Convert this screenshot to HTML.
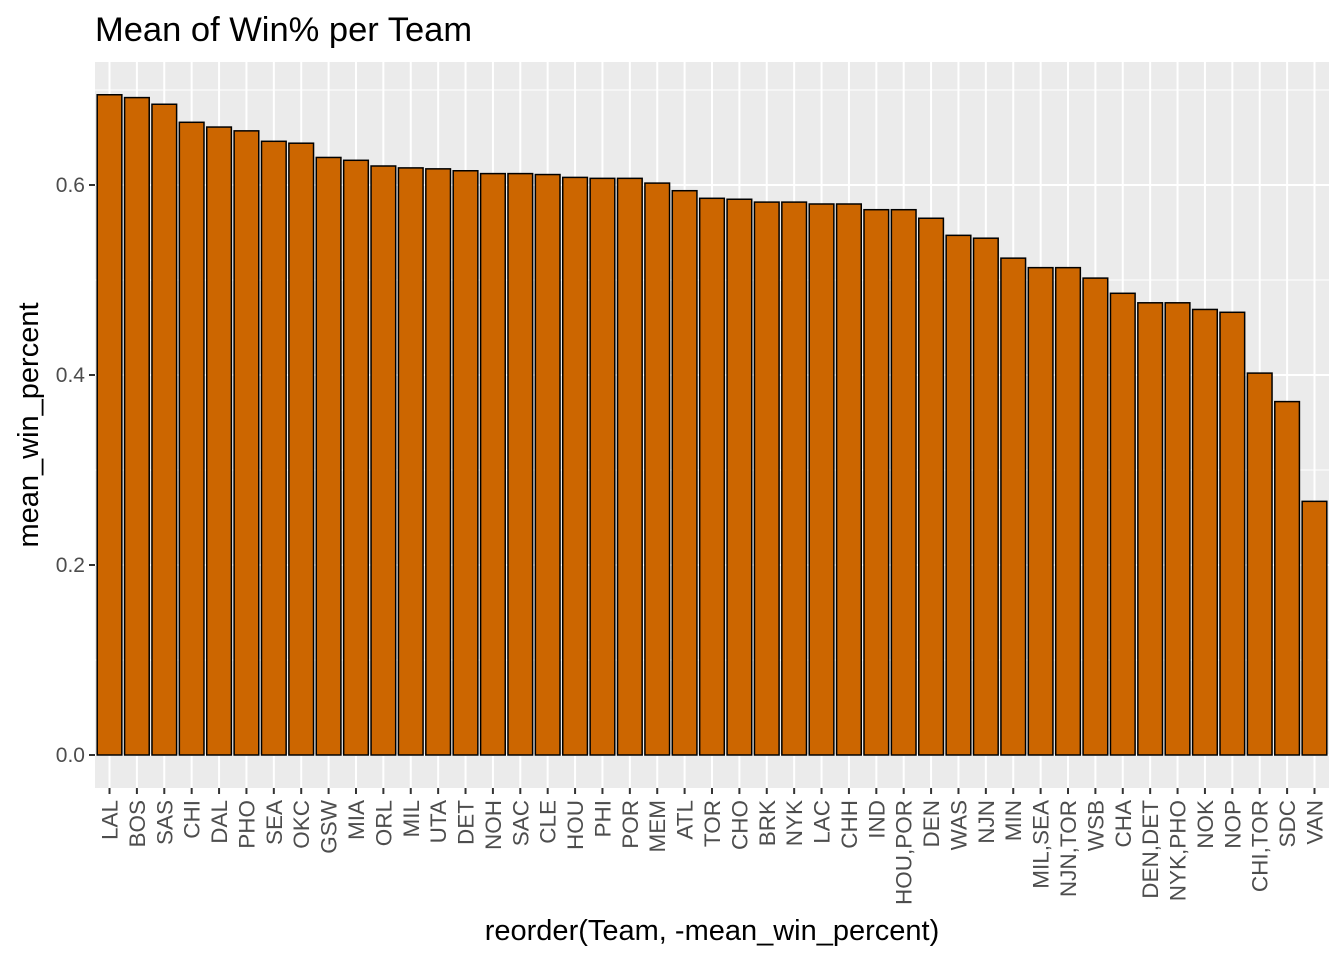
<!DOCTYPE html>
<html><head><meta charset="utf-8"><style>body{margin:0;background:#fff}svg{display:block;font-family:"Liberation Sans",Arial,sans-serif}</style></head>
<body>
<svg id="chart" width="1344" height="960"></svg>
<script>
const categories=["LAL","BOS","SAS","CHI","DAL","PHO","SEA","OKC","GSW","MIA","ORL","MIL","UTA","DET","NOH","SAC","CLE","HOU","PHI","POR","MEM","ATL","TOR","CHO","BRK","NYK","LAC","CHH","IND","HOU,POR","DEN","WAS","NJN","MIN","MIL,SEA","NJN,TOR","WSB","CHA","DEN,DET","NYK,PHO","NOK","NOP","CHI,TOR","SDC","VAN"];
const values=[0.695,0.692,0.685,0.666,0.661,0.657,0.646,0.644,0.629,0.626,0.620,0.618,0.617,0.615,0.612,0.612,0.611,0.608,0.607,0.607,0.602,0.594,0.586,0.585,0.582,0.582,0.580,0.580,0.574,0.574,0.565,0.547,0.544,0.523,0.513,0.513,0.502,0.486,0.476,0.476,0.469,0.466,0.402,0.372,0.267];
const yTicks=[0,0.2,0.4,0.6];
const yTickLabels=["0.0","0.2","0.4","0.6"];
const yMinor=[0.1,0.3,0.5,0.7];
const NS="http://www.w3.org/2000/svg";
const svg=document.getElementById('chart');
const P={l:95,r:1329,t:62,b:788};
const y0=755,ppu=950;
const yS=v=>y0-v*ppu;
const step=(P.r-P.l)/(categories.length-1+1.06);
const xS=i=>P.l+step*(0.53+i);
function el(t,a,txt){const e=document.createElementNS(NS,t);for(const k in a)e.setAttribute(k,a[k]);if(txt!==undefined)e.textContent=txt;svg.appendChild(e);return e;}
let e=el('rect',{x:P.l,y:P.t,width:P.r-P.l,height:P.b-P.t,fill:'#ebebeb'});

yMinor.forEach(v=>{if(yS(v)>P.t){const g=el('line',{x1:P.l,x2:P.r,y1:yS(v),y2:yS(v),stroke:'#fff','stroke-width':1});}});
yTicks.forEach(v=>{const g=el('line',{x1:P.l,x2:P.r,y1:yS(v),y2:yS(v),stroke:'#fff','stroke-width':2});});
categories.forEach((c,i)=>{const g=el('line',{x1:xS(i),x2:xS(i),y1:P.t,y2:P.b,stroke:'#fff','stroke-width':2});});
const bw=step*0.9;
categories.forEach((c,i)=>{
 const b=el('rect',{x:xS(i)-bw/2,y:yS(values[i]),width:bw,height:yS(0)-yS(values[i]),fill:'#cc6600',stroke:'#000','stroke-width':1.5});
 
 const t=el('line',{x1:xS(i),x2:xS(i),y1:P.b,y2:P.b+6,stroke:'#333','stroke-width':2});
 
 const l=el('text',{x:0,y:0,transform:`translate(${xS(i)+8},${P.b+12}) rotate(-90)`,'text-anchor':'end','font-size':22.5,fill:'#4d4d4d'},c);
 
});
yTicks.forEach((v,i)=>{
 const t=el('line',{x1:P.l-6,x2:P.l,y1:yS(v),y2:yS(v),stroke:'#333','stroke-width':2});
 
 const l=el('text',{x:P.l-10,y:yS(v)+7,'text-anchor':'end','font-size':21,fill:'#4d4d4d'},yTickLabels[i]);
 
});
e=el('text',{x:95,y:41,'font-size':34.5,fill:'#000'},'Mean of Win% per Team');

e=el('text',{x:712,y:940,'text-anchor':'middle','font-size':29,fill:'#000'},'reorder(Team, -mean_win_percent)');

e=el('text',{x:0,y:0,transform:`translate(38,425) rotate(-90)`,'text-anchor':'middle','font-size':29,fill:'#000'},'mean_win_percent');

</script>
</body></html>
